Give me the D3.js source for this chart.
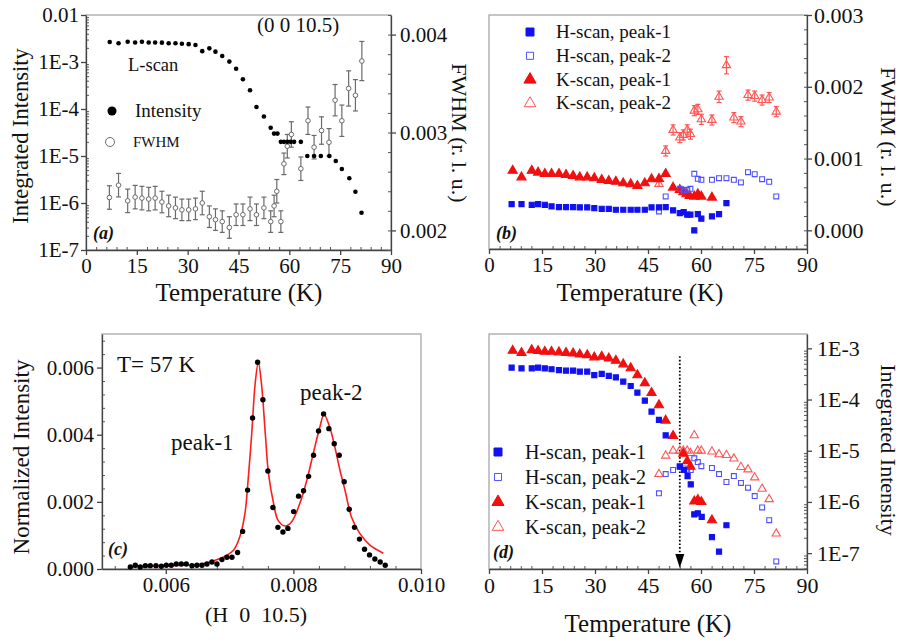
<!DOCTYPE html>
<html>
<head>
<meta charset="utf-8">
<script src="https://cdn.jsdelivr.net/npm/d3@7"></script>
<style>
  body { margin: 0; background: #fff; }
  svg { font-family: "Liberation Serif", "Times New Roman", serif; }
</style>
</head>
<body>
<svg id="fig" width="901" height="644"></svg>
<script>
// ---------- data ----------
// (a) L-scan, (0 0 10.5): [T, integrated intensity]
const aIntensity = [
  [7, 2.67e-3], [9.6, 2.5e-3], [12.3, 2.7e-3], [14.5, 2.6e-3], [16.5, 2.7e-3], [18.5, 2.6e-3],
  [20.4, 2.6e-3], [22.4, 2.58e-3], [24.4, 2.5e-3], [26.4, 2.5e-3], [28.3, 2.45e-3], [30.3, 2.4e-3],
  [32.3, 2.3e-3], [34.3, 1.7e-3], [36.4, 1.95e-3], [38.2, 1.66e-3], [40.2, 1.34e-3], [42.3, 1.02e-3],
  [44.3, 7.2e-4], [46.3, 4.3e-4], [48.4, 2.5e-4], [50.3, 1.1e-4], [52.5, 6.9e-5], [54.5, 4.0e-5],
  [55.5, 3e-5], [56.5, 3e-5], [57.5, 2e-5], [58.4, 2e-5], [59.4, 2e-5], [60.4, 2e-5], [61.4, 2e-5],
  [63.4, 2e-5], [65.3, 1e-5], [67.3, 1e-5], [69.3, 1e-5], [71.8, 1e-5], [73.7, 7.8e-6],
  [75.5, 5.3e-6], [77.7, 3.35e-6], [79.5, 1.74e-6], [81.3, 6.2e-7]
];
// (a) FWHM: [T, value, error]
const aFwhm = [
  [6.9, 2.336e-3, 1.2e-4], [9.6, 2.462e-3, 1.2e-4], [12.3, 2.302e-3, 1.2e-4], [14.5, 2.34e-3, 1.2e-4],
  [16.5, 2.33e-3, 1.2e-4], [18.5, 2.32e-3, 1.2e-4], [20.4, 2.33e-3, 1.2e-4], [22.4, 2.29e-3, 1.1e-4],
  [24.4, 2.25e-3, 1.1e-4], [26.4, 2.23e-3, 1.1e-4], [28.3, 2.21e-3, 1.1e-4], [30.3, 2.21e-3, 1.1e-4],
  [32.3, 2.22e-3, 1.1e-4], [34.3, 2.28e-3, 1.2e-4], [36.4, 2.14e-3, 1.1e-4], [38.2, 2.11e-3, 1.1e-4],
  [40.2, 2.09e-3, 1.1e-4], [42.3, 2.03e-3, 1.1e-4], [44.3, 2.16e-3, 1.1e-4], [46.3, 2.16e-3, 1.1e-4],
  [48.4, 2.22e-3, 1.2e-4], [50.3, 2.16e-3, 1.1e-4], [52.5, 2.23e-3, 1.1e-4], [54.5, 2.09e-3, 1.1e-4],
  [55.5, 2.25e-3, 1.1e-4], [56.3, 2.40e-3, 1.2e-4], [57.5, 2.09e-3, 1.1e-4], [58.4, 2.68e-3, 1.1e-4],
  [59.4, 2.86e-3, 1.2e-4], [60.6, 2.98e-3, 1.3e-4], [63.4, 2.63e-3, 1.2e-4], [65.5, 3.12e-3, 1.4e-4],
  [67.3, 2.85e-3, 1.2e-4], [69.5, 3.02e-3, 1.4e-4], [71.7, 2.90e-3, 1.4e-4], [73.5, 3.33e-3, 1.6e-4],
  [75.5, 3.12e-3, 1.6e-4], [77.5, 3.45e-3, 1.8e-4], [79.5, 3.38e-3, 1.6e-4], [81.4, 3.73e-3, 2.0e-4]
];

// (b) FWHM (r. l. u.): [T, value]
const bH1 = [
  [6.4, 3.66e-4], [9.2, 3.66e-4], [12.1, 3.56e-4], [13.9, 3.66e-4], [15.8, 3.56e-4], [17.7, 3.33e-4],
  [19.8, 3.24e-4], [21.8, 3.24e-4], [23.8, 3.24e-4], [25.7, 3.2e-4], [27.8, 3.2e-4], [29.8, 3.1e-4],
  [31.9, 3.0e-4], [33.9, 3.0e-4], [35.9, 2.87e-4], [38, 2.87e-4], [40.1, 2.87e-4], [42, 2.87e-4],
  [44.1, 2.87e-4], [46, 3.2e-4], [48.1, 3.2e-4], [50, 3.24e-4], [52.1, 2.78e-4], [54, 2.4e-4],
  [55.1, 2.55e-4], [56.1, 2.18e-4], [57, 2.18e-4], [58.1, 0.0], [59.1, 2.27e-4], [60.1, 1.62e-4],
  [63.1, 1.94e-4], [65.1, 2.27e-4], [67.2, 3.8e-4]
];
const bH2 = [
  [48.1, 2.64e-4], [50, 4.72e-4], [54, 5.79e-4], [55.1, 5.56e-4], [56.1, 5.65e-4], [57, 5.79e-4],
  [58.1, 7.87e-4], [59.1, 7.18e-4], [60.1, 7.04e-4], [63.1, 7.04e-4], [65.1, 7.27e-4], [67.2, 7.27e-4],
  [69.3, 7.04e-4], [71.3, 6.67e-4], [73.3, 8.1e-4], [75.2, 7.82e-4], [77.3, 7.13e-4], [79.3, 6.76e-4],
  [81.3, 4.72e-4]
];
const bK1 = [
  [6.7, 8.33e-4], [9.2, 7.4e-4], [12.1, 8.33e-4], [13.9, 8.06e-4], [15.8, 7.87e-4], [17.7, 7.87e-4],
  [19.8, 7.87e-4], [21.8, 7.73e-4], [23.8, 7.59e-4], [25.7, 7.4e-4], [27.8, 7.4e-4], [29.8, 7.27e-4],
  [31.9, 7.04e-4], [33.9, 6.9e-4], [35.9, 6.8e-4], [38, 6.57e-4], [40.1, 6.44e-4], [42, 6.2e-4],
  [44.1, 6.57e-4], [46, 7.13e-4], [48.1, 7.18e-4], [50, 7.87e-4], [52.1, 5.97e-4], [54, 5.65e-4],
  [55, 5.32e-4], [55.9, 5.05e-4], [56.8, 4.81e-4], [58.1, 4.72e-4], [59.1, 5.05e-4], [60.1, 4.72e-4],
  [63.1, 4.58e-4]
];
// [T, value, error]
const bK2 = [
  [48.1, 6.44e-4, 3e-5], [50, 1.106e-3, 7e-5], [52.1, 1.398e-3, 7e-5], [54, 1.292e-3, 7e-5],
  [55, 1.329e-3, 7e-5], [56.1, 1.40e-3, 7e-5], [57, 1.34e-3, 7e-5], [58.1, 1.667e-3, 7e-5],
  [59.1, 1.685e-3, 7e-5], [60.1, 1.546e-3, 7e-5], [63.1, 1.537e-3, 7e-5], [65.1, 1.86e-3, 8e-5],
  [67.2, 2.30e-3, 1.2e-4], [69.3, 1.57e-3, 7e-5], [71.3, 1.514e-3, 7e-5], [73.3, 1.884e-3, 7e-5],
  [75.2, 1.87e-3, 7e-5], [77.3, 1.815e-3, 7e-5], [79.3, 1.85e-3, 7e-5], [81.3, 1.653e-3, 7e-5]
];

// (c) H-scan at T = 57 K: [H, normalized intensity]
const cScan = [
  [0.005444, 0.00006], [0.005522, 0.00011], [0.0056, 0.00006], [0.005679, 0.0001], [0.005757, 0.0001],
  [0.005846, 0.0001], [0.00593, 0.00008], [0.006008, 0.00011], [0.006086, 0.00011], [0.006164, 0.00015],
  [0.006243, 0.00015], [0.006321, 0.00015], [0.00641, 0.0001], [0.006488, 0.00011], [0.006567, 0.00011],
  [0.006645, 0.00015], [0.006723, 0.00021], [0.006802, 0.00015], [0.00688, 0.00028], [0.006958, 0.00035],
  [0.007037, 0.00035], [0.007125, 0.00049], [0.007204, 0.00112], [0.007282, 0.00235], [0.00736, 0.0045],
  [0.007439, 0.00616], [0.007522, 0.00504], [0.0076, 0.00292], [0.007679, 0.00183], [0.007757, 0.00124],
  [0.007836, 0.0011], [0.007914, 0.00121], [0.008003, 0.00171], [0.008081, 0.00217], [0.008159, 0.00233],
  [0.008238, 0.00276], [0.008316, 0.00339], [0.008394, 0.00411], [0.008473, 0.00462], [0.008556, 0.00418],
  [0.00864, 0.00373], [0.008718, 0.00339], [0.008796, 0.0026], [0.008875, 0.00178], [0.008958, 0.00124],
  [0.009036, 0.00089], [0.009115, 0.00059], [0.009193, 0.00042], [0.009277, 0.0003], [0.00936, 0.00021],
  [0.009439, 0.00011]
];
// (c) two-peak fit
const cFit = [
  [0.00544, 0.00005], [0.0060, 0.0001], [0.00654, 0.00014], [0.00685, 0.00031], [0.00706, 0.00056],
  [0.00716, 0.00096], [0.00724, 0.00165], [0.00729, 0.00264], [0.00735, 0.00412], [0.0074, 0.00551],
  [0.00745, 0.00615], [0.0075, 0.00551], [0.00756, 0.00402], [0.00761, 0.00284], [0.00769, 0.00195],
  [0.00776, 0.00145], [0.00787, 0.00128], [0.00797, 0.0014], [0.0081, 0.00195], [0.00821, 0.00264],
  [0.00831, 0.00343], [0.00842, 0.00427], [0.00848, 0.0046], [0.00857, 0.00422], [0.00865, 0.00363],
  [0.00873, 0.00294], [0.00881, 0.00234], [0.00891, 0.00155], [0.00904, 0.00106], [0.0092, 0.00071],
  [0.00941, 0.00047]
];

// (d) integrated intensity: [T, value]
const dH1 = [
  [6.4, 4.2e-4], [9.2, 4.07e-4], [12.1, 4.07e-4], [13.9, 4.2e-4], [15.8, 4.07e-4], [17.7, 3.9e-4],
  [19.8, 3.77e-4], [21.8, 3.66e-4], [23.8, 3.66e-4], [25.7, 3.5e-4], [27.8, 3.5e-4], [29.8, 3.0e-4],
  [31.9, 3.16e-4], [33.9, 2.9e-4], [35.9, 2.7e-4], [38, 2.24e-4], [40.1, 1.84e-4], [42, 1.36e-4],
  [44.1, 9.5e-5], [46, 5.8e-5], [48.1, 4.0e-5], [50, 2.0e-5], [54, 4.9e-6], [55.2, 4.2e-6],
  [56.2, 3.2e-6], [57.1, 2.2e-6], [58.1, 5.7e-7], [59.1, 6e-7], [60.2, 5.1e-7], [63.1, 2.05e-7],
  [65.1, 1.07e-7], [67.2, 3.5e-7]
];
const dH2 = [
  [48.1, 1.47e-6], [50, 3.5e-6], [52.1, 4.2e-6], [54, 5e-6], [55.1, 4.5e-6], [56.1, 4.2e-6],
  [57.1, 4.2e-6], [58.1, 7.1e-6], [59.1, 6e-6], [60.1, 5e-6], [63.1, 4.6e-6], [65.1, 3.5e-6],
  [67.2, 2.45e-6], [69.3, 3.2e-6], [71.3, 2.35e-6], [73.3, 1.9e-6], [75.2, 1.3e-6], [77.3, 7.8e-7],
  [79.3, 4.4e-7], [81.3, 6.9e-8]
];
const dK1 = [
  [6.7, 9e-4], [9.2, 8.2e-4], [12.1, 9.3e-4], [13.9, 8.9e-4], [15.8, 8.6e-4], [17.7, 8.6e-4],
  [19.8, 8.4e-4], [21.8, 8.2e-4], [23.8, 8e-4], [25.7, 7.6e-4], [27.8, 7.4e-4], [29.8, 6.7e-4],
  [31.9, 6.9e-4], [33.9, 6.4e-4], [35.9, 5.75e-4], [38, 4.9e-4], [40.1, 4.1e-4], [42, 3.0e-4],
  [44.1, 2.1e-4], [46, 1.35e-4], [48.1, 7.8e-5], [50, 3.9e-5], [52.1, 1.95e-5], [55, 8.8e-6],
  [56.1, 6.3e-6], [57, 4.9e-6], [58.1, 1.03e-6], [59.1, 1.1e-6], [60.1, 1e-6], [63.1, 4.4e-7]
];
const dK2 = [
  [48.1, 3.5e-6], [50, 8e-6], [52.1, 1e-5], [54, 1e-5], [55, 1e-5], [56.1, 1e-5], [57, 9e-6],
  [58.1, 2e-5], [59.1, 1e-5], [60.1, 1e-5], [63.1, 9.6e-6], [65.1, 8.5e-6], [67.2, 8.2e-6],
  [69.3, 7e-6], [71.3, 4.8e-6], [73.3, 4.3e-6], [75.2, 3e-6], [77.3, 1.8e-6], [79.3, 1.13e-6],
  [81.3, 2.4e-7]
];
const transitionT = 54;   // dotted arrow in (d)

const legendLabels = ["H-scan, peak-1", "H-scan, peak-2", "K-scan, peak-1", "K-scan, peak-2"];
const tempTicks = [0, 15, 30, 45, 60, 75, 90];

// ---------- drawing ----------
const svg = d3.select("#fig");
const BLUE = "#1010f0", BLUE_O = "#5050ff", RED = "#f01010", RED_O = "#ff5555", GREY = "#6a6a6a";
const fmtLog = v => Math.abs(Math.log10(v) + 2) < 1e-6 ? "0.01" : "1E" + Math.round(Math.log10(v));
const isDecade = v => Math.abs(Math.log10(v) - Math.round(Math.log10(v))) < 1e-6;

function frame(x, y) {
  svg.append("rect")
    .attr("x", x.range()[0]).attr("y", y.range()[1])
    .attr("width", x.range()[1] - x.range()[0]).attr("height", y.range()[0] - y.range()[1])
    .attr("fill", "none").attr("stroke", "#a0a0a0").attr("stroke-width", 1.2);
}

// major ticks (labelled, outward) + minor ticks (inward)
function drawAxis(make, scale, tx, ty, major, minor, fmt, pad, fs) {
  const gm = svg.append("g").attr("transform", `translate(${tx},${ty})`)
    .call(make(scale).tickValues(minor).tickSizeInner(-3).tickSizeOuter(0).tickFormat(""));
  gm.select(".domain").remove();
  gm.selectAll("line").attr("stroke", "#555");
  const g = svg.append("g").attr("transform", `translate(${tx},${ty})`)
    .call(make(scale).tickValues(major).tickSizeInner(5).tickSizeOuter(0).tickPadding(pad).tickFormat(fmt));
  g.attr("font-family", null).attr("font-size", fs);
  g.selectAll("path,line").attr("stroke", "#444").attr("stroke-width", 1.3);
  g.selectAll("text").attr("fill", "#111");
  return g;
}

function label(x, y, s, fs, opt = {}) {
  const t = svg.append("text").attr("x", x).attr("y", y).attr("font-size", fs)
    .attr("fill", "#111").text(s);
  if (opt.anchor) t.attr("text-anchor", opt.anchor);
  if (opt.rot) t.attr("transform", `rotate(${opt.rot},${x},${y})`);
  if (opt.italic) t.attr("font-style", "italic");
  if (opt.bold) t.attr("font-weight", "bold");
  if (opt.pre) t.style("white-space", "pre");
  return t;
}

const sym = (type, size) => d3.symbol().type(type).size(size)();

function points(data, x, y, type, size, fill, stroke) {
  svg.append("g").selectAll("path").data(data).join("path")
    .attr("transform", d => `translate(${x(d[0])},${y(d[1])})`)
    .attr("d", sym(type, size))
    .attr("fill", fill).attr("stroke", stroke).attr("stroke-width", 1.1);
}

function errorBars(data, x, y, color, cap) {
  const g = svg.append("g").attr("stroke", color).attr("stroke-width", 1.2);
  data.forEach(d => {
    const px = x(d[0]), y0 = y(d[1] - d[2]), y1 = y(d[1] + d[2]);
    g.append("line").attr("x1", px).attr("x2", px).attr("y1", y0).attr("y2", y1);
    g.append("line").attr("x1", px - cap).attr("x2", px + cap).attr("y1", y0).attr("y2", y0);
    g.append("line").attr("x1", px - cap).attr("x2", px + cap).attr("y1", y1).attr("y2", y1);
  });
}

const minorT = d3.range(0, 91, 3).filter(v => v % 15 !== 0);

// ===== panel (a) =====
{
  const x = d3.scaleLinear().domain([0, 90]).range([86, 391]);
  const y = d3.scaleLog().domain([1e-7, 1e-2]).range([250, 15]);
  const yr = d3.scaleLinear().domain([0.0018, 0.0042]).range([250, 15]);
  frame(x, y);
  drawAxis(d3.axisBottom, x, 0, 250, tempTicks, minorT, d3.format("d"), 3, 21);
  drawAxis(d3.axisLeft, y, 86, 0, y.ticks().filter(isDecade), y.ticks().filter(v => !isDecade(v)), fmtLog, 2, 21);
  drawAxis(d3.axisRight, yr, 391, 0, [0.002, 0.003, 0.004], d3.range(0.0018, 0.00421, 0.0002), d3.format(".3f"), 4, 21);

  errorBars(aFwhm, x, yr, GREY, 2.5);
  svg.append("g").selectAll("circle").data(aFwhm).join("circle")
    .attr("cx", d => x(d[0])).attr("cy", d => yr(d[1])).attr("r", 2.3)
    .attr("fill", "#fff").attr("stroke", GREY).attr("stroke-width", 1);
  svg.append("g").selectAll("circle").data(aIntensity).join("circle")
    .attr("cx", d => x(d[0])).attr("cy", d => y(d[1])).attr("r", 2.3).attr("fill", "#000");

  label(257, 32, "(0 0 10.5)", 21);
  label(128, 71, "L-scan", 18.5);
  svg.append("circle").attr("cx", 112).attr("cy", 111).attr("r", 4.5).attr("fill", "#000");
  label(135, 117, "Intensity", 19);
  svg.append("circle").attr("cx", 110).attr("cy", 142).attr("r", 4.5).attr("fill", "#fff").attr("stroke", GREY);
  label(133, 147, "FWHM", 15);
  label(93, 239, "(a)", 18, { italic: true, bold: true });
  label(239, 301, "Temperature (K)", 25, { anchor: "middle" });
  label(28, 136, "Integrated Intensity", 22.5, { anchor: "middle", rot: -90 });
  label(452, 133, "FWHM (r. l. u.)", 22, { anchor: "middle", rot: 90 });
}

// ===== panel (b) =====
{
  const x = d3.scaleLinear().domain([0, 90]).range([489, 807]);
  const y = d3.scaleLinear().domain([-0.00026, 0.003]).range([249, 15]);
  frame(x, y);
  drawAxis(d3.axisBottom, x, 0, 249, tempTicks, minorT, d3.format("d"), 3, 21);
  drawAxis(d3.axisRight, y, 807, 0, [0, 0.001, 0.002, 0.003], d3.range(-0.0002, 0.00301, 0.0002), d3.format(".3f"), 2, 22);

  errorBars(bK2, x, y, RED_O, 2.5);
  points(bK2, x, y, d3.symbolTriangle, 30, "none", RED_O);
  points(bK1, x, y, d3.symbolTriangle, 36, RED, RED);
  points(bH2, x, y, d3.symbolSquare, 24, "none", BLUE_O);
  points(bH1, x, y, d3.symbolSquare, 26, BLUE, BLUE);

  const styles = [
    [d3.symbolSquare, 64, BLUE, BLUE], [d3.symbolSquare, 50, "none", BLUE_O],
    [d3.symbolTriangle, 64, RED, RED], [d3.symbolTriangle, 58, "none", RED_O]
  ];
  legendLabels.forEach((s, i) => {
    const cy = 32 + i * 23.8;
    svg.append("path").attr("transform", `translate(530,${cy})`).attr("d", sym(styles[i][0], styles[i][1]))
      .attr("fill", styles[i][2]).attr("stroke", styles[i][3]);
    label(556, cy + 6, s, 19);
  });
  label(496, 239, "(b)", 18, { italic: true, bold: true });
  label(640, 301, "Temperature (K)", 25, { anchor: "middle" });
  label(881, 137, "FWHM (r. l. u.)", 22, { anchor: "middle", rot: 90 });
}

// ===== panel (c) =====
{
  const x = d3.scaleLinear().domain([0.005, 0.010]).range([102, 421]);
  const y = d3.scaleLinear().domain([0, 0.007]).range([569, 334]);
  frame(x, y);
  drawAxis(d3.axisBottom, x, 0, 569, [0.006, 0.008, 0.010],
    d3.range(0.0052, 0.01, 0.0004).filter(v => Math.abs(v / 0.002 - Math.round(v / 0.002)) > 1e-6),
    d3.format(".3f"), 3, 21);
  drawAxis(d3.axisLeft, y, 102, 0, [0, 0.002, 0.004, 0.006],
    d3.range(0.0004, 0.007, 0.0004).filter(v => Math.abs(v / 0.002 - Math.round(v / 0.002)) > 1e-6),
    d3.format(".3f"), 3, 21);

  svg.append("path").datum(cFit)
    .attr("d", d3.line().x(d => x(d[0])).y(d => y(d[1])).curve(d3.curveCatmullRom.alpha(0.5)))
    .attr("fill", "none").attr("stroke", "#ff1c1c").attr("stroke-width", 1.6);
  svg.append("g").selectAll("circle").data(cScan).join("circle")
    .attr("cx", d => x(d[0])).attr("cy", d => y(d[1])).attr("r", 2.7).attr("fill", "#000");

  label(117, 372, "T= 57 K", 23);
  label(171, 450, "peak-1", 23);
  label(300, 400, "peak-2", 23);
  label(108, 555, "(c)", 18, { italic: true, bold: true });
  label(256, 622, "(H  0  10.5)", 22, { anchor: "middle", pre: true });
  label(29, 457, "Normalized Intensity", 23, { anchor: "middle", rot: -90 });
}

// ===== panel (d) =====
{
  const x = d3.scaleLinear().domain([0, 90]).range([489, 807]);
  const y = d3.scaleLog().domain([Math.pow(10, -7.31), Math.pow(10, -2.72)]).range([569, 334]);
  frame(x, y);
  drawAxis(d3.axisBottom, x, 0, 569, tempTicks, minorT, d3.format("d"), 3, 22);
  drawAxis(d3.axisRight, y, 807, 0, y.ticks().filter(isDecade), y.ticks().filter(v => !isDecade(v)), fmtLog, 5, 22);

  // dotted arrow at the transition
  const ax = x(transitionT), yTop = y(7e-4), yTip = y.range()[0] - 1;
  svg.append("line").attr("x1", ax).attr("x2", ax).attr("y1", yTop).attr("y2", yTip - 10)
    .attr("stroke", "#000").attr("stroke-width", 1.8).attr("stroke-dasharray", "1.6,2");
  svg.append("path").attr("d", `M${ax - 4.5},${yTip - 14}L${ax + 4.5},${yTip - 14}L${ax},${yTip}Z`).attr("fill", "#000");

  points(dK2, x, y, d3.symbolTriangle, 30, "none", RED_O);
  points(dH2, x, y, d3.symbolSquare, 24, "none", BLUE_O);
  points(dK1, x, y, d3.symbolTriangle, 36, RED, RED);
  points(dH1, x, y, d3.symbolSquare, 26, BLUE, BLUE);

  const styles = [
    [d3.symbolSquare, 64, BLUE, BLUE], [d3.symbolSquare, 50, "none", BLUE_O],
    [d3.symbolTriangle, 64, RED, RED], [d3.symbolTriangle, 58, "none", RED_O]
  ];
  legendLabels.forEach((s, i) => {
    const cy = 452 + i * 25;
    svg.append("path").attr("transform", `translate(498,${cy})`).attr("d", sym(styles[i][0], styles[i][1]))
      .attr("fill", styles[i][2]).attr("stroke", styles[i][3]);
    label(525, cy + 7, s, 20);
  });
  label(493, 558, "(d)", 18, { italic: true, bold: true });
  label(648, 632, "Temperature (K)", 25, { anchor: "middle" });
  label(881, 450, "Integrated Intensity", 22, { anchor: "middle", rot: 90 });
}
</script>
</body>
</html>
